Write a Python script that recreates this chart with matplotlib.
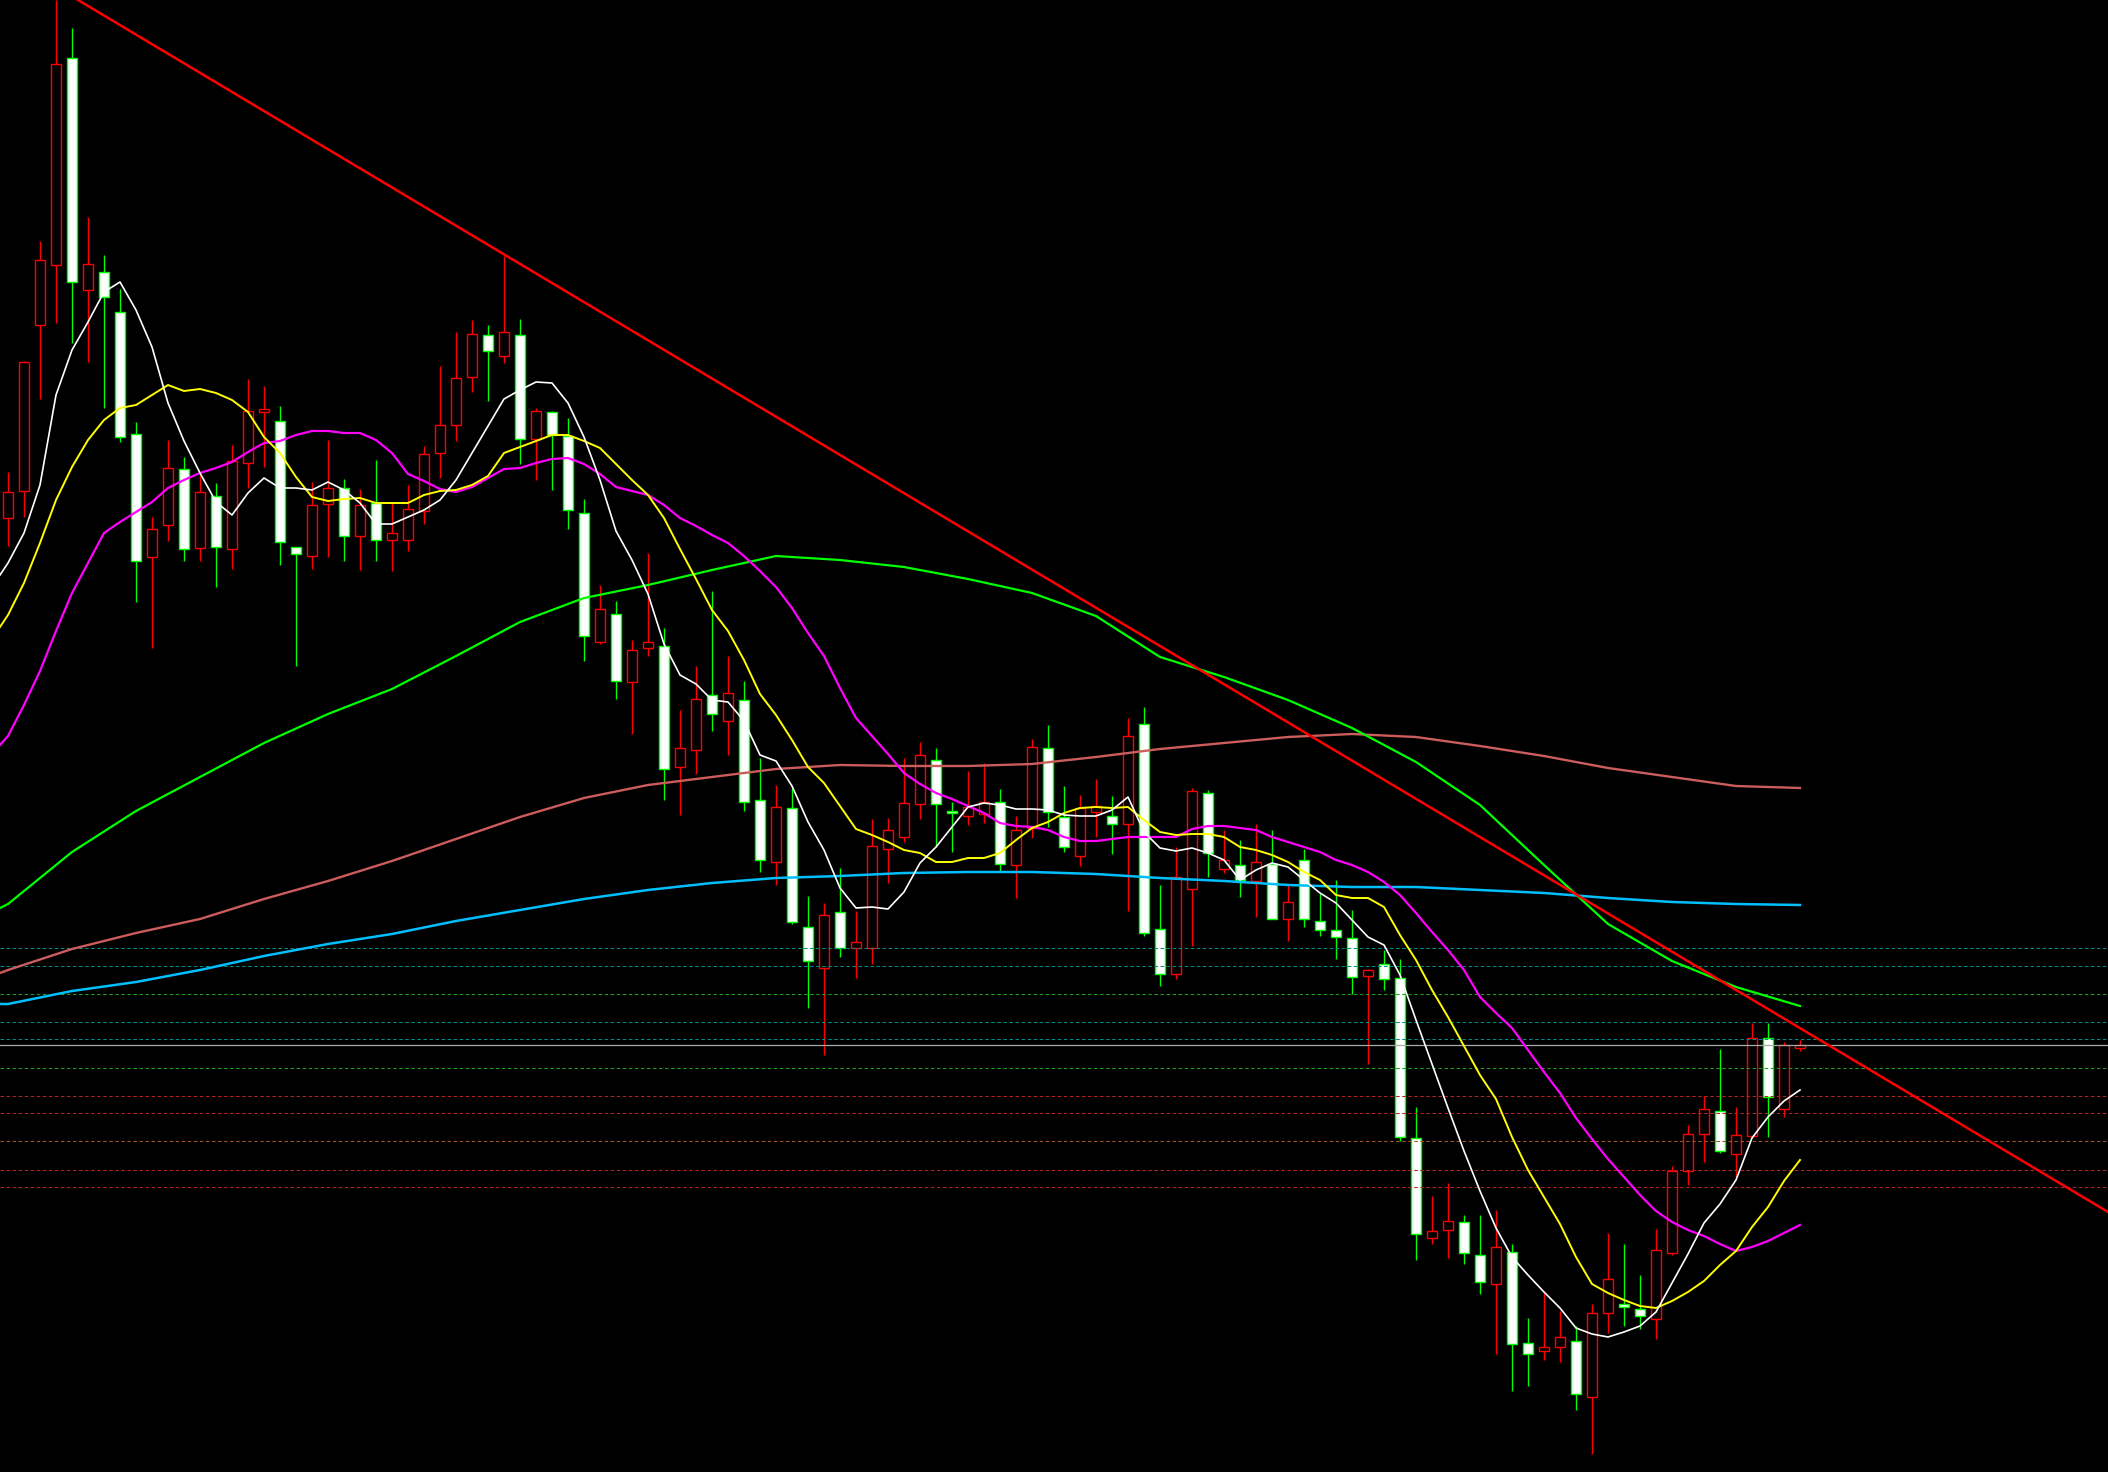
import matplotlib
matplotlib.use("Agg")
import matplotlib.pyplot as plt
from matplotlib.patches import Rectangle
import numpy as np

# ---------------- data (price units) ----------------
opens = [954, 981, 1147, 1207, 1414, 1182, 1200, 1160, 1038, 915,
         947, 1003, 924, 976, 923, 1009, 1060, 1051, 925, 916,
         968, 984, 936, 969, 932, 932, 961, 1019, 1047, 1095,
         1137, 1116, 1137, 1033, 1060, 1036, 959, 830, 858, 790,
         824, 826, 705, 722, 777, 751, 772, 672, 610, 664,
         545, 504, 560, 524, 524, 623, 635, 668, 712, 661,
         656, 658, 670, 607, 644, 724, 655, 616, 660, 656,
         648, 748, 543, 498, 583, 679, 603, 607, 591, 608,
         553, 612, 551, 542, 534, 496, 508, 494, 334, 234,
         242, 250, 217, 188, 220, 129, 121, 125, 131, 75,
         159, 168, 163, 153, 219, 301, 338, 361, 318, 336,
         434, 363, 424]
highs = [1000, 1111, 1231, 1472, 1444, 1255, 1217, 1183, 1050, 955,
         1032, 1015, 999, 989, 1027, 1093, 1086, 1066, 925, 990,
         1032, 993, 983, 1012, 969, 987, 1026, 1106, 1140, 1152,
         1147, 1216, 1153, 1064, 1061, 1054, 973, 887, 871, 832,
         919, 844, 762, 806, 881, 816, 791, 714, 687, 684,
         576, 569, 604, 561, 653, 654, 714, 730, 724, 670,
         701, 709, 683, 656, 733, 747, 686, 677, 693, 676,
         754, 765, 587, 625, 684, 682, 642, 632, 648, 642,
         587, 623, 579, 592, 562, 503, 522, 513, 365, 276,
         289, 257, 257, 262, 228, 154, 180, 161, 146, 168,
         239, 228, 197, 243, 306, 347, 376, 423, 365, 449,
         449, 430, 432]
lows = [926, 955, 1073, 1149, 1129, 1110, 1064, 1030, 870, 824,
        931, 911, 911, 885, 903, 984, 1005, 907, 806, 903,
        915, 911, 902, 911, 901, 921, 948, 994, 1031, 1080,
        1071, 1109, 1008, 992, 982, 943, 811, 828, 773, 738,
        816, 672, 657, 698, 741, 717, 661, 600, 587, 548,
        464, 417, 515, 494, 508, 589, 630, 653, 625, 620,
        647, 649, 601, 574, 634, 645, 620, 606, 635, 618,
        561, 536, 486, 493, 526, 595, 599, 575, 555, 553,
        531, 545, 536, 513, 478, 408, 482, 331, 212, 228,
        214, 208, 178, 118, 81, 86, 112, 110, 62, 18,
        139, 146, 143, 133, 217, 287, 310, 319, 295, 335,
        335, 355, 421]
closes = [980, 1110, 1212, 1408, 1190, 1208, 1175, 1035, 911, 943,
          1004, 923, 980, 925, 1011, 1061, 1063, 930, 918, 967,
          984, 936, 967, 932, 939, 963, 1018, 1047, 1094, 1138,
          1121, 1140, 1033, 1061, 1037, 962, 836, 863, 791, 822,
          830, 703, 724, 773, 758, 779, 670, 612, 665, 550,
          511, 557, 524, 530, 626, 642, 669, 717, 668, 659,
          665, 670, 608, 642, 725, 660, 625, 664, 666, 648,
          736, 539, 498, 595, 681, 619, 612, 592, 610, 553,
          570, 553, 542, 535, 495, 502, 493, 335, 238, 241,
          251, 219, 190, 225, 128, 118, 125, 135, 78, 159,
          193, 165, 156, 222, 301, 338, 363, 321, 337, 434,
          375, 427, 427]

ma_white = [909, 939, 987, 1077, 1122, 1150, 1180, 1190, 1162, 1125,
            1069, 1031, 999, 970, 957, 979, 994, 984, 984, 982,
            990, 982, 969, 948, 948, 955, 962, 972, 992, 1019,
            1046, 1073, 1082, 1090, 1089, 1069, 1035, 992, 941, 912,
            878, 828, 797, 788, 772, 770, 751, 717, 711, 686,
            650, 622, 584, 564, 565, 563, 580, 609, 625, 645,
            665, 669, 667, 663, 663, 662, 657, 656, 656, 662,
            675, 640, 624, 621, 624, 619, 612, 592, 602, 609,
            605, 592, 579, 569, 552, 535, 527, 497, 452, 408,
            364, 321, 281, 244, 215, 197, 180, 164, 144, 138,
            135, 140, 146, 160, 189, 218, 249, 268, 292, 334,
            355, 371, 382]
ma_yellow = [857, 889, 929, 972, 1005, 1032, 1052, 1064, 1067, 1077,
             1087, 1081, 1083, 1079, 1072, 1060, 1035, 1019, 995, 975,
             971, 973, 974, 969, 969, 969, 977, 981, 982, 987,
             996, 1019, 1025, 1031, 1037, 1037, 1031, 1024, 1008, 992,
             977, 954, 923, 893, 862, 841, 812, 778, 757, 732,
             705, 689, 666, 643, 637, 630, 622, 619, 610, 610,
             614, 614, 619, 632, 644, 650, 659, 664, 665, 664,
             665, 652, 640, 637, 638, 638, 635, 625, 622, 617,
             610, 600, 592, 577, 574, 574, 565, 537, 512, 482,
             455, 426, 397, 373, 335, 302, 275, 248, 215, 188,
             179, 172, 166, 164, 171, 180, 191, 207, 221, 245,
             265, 291, 312]
ma_magenta = [736, 767, 801, 841, 879, 909, 939, 950, 960, 970,
              984, 992, 999, 1004, 1010, 1020, 1029, 1031, 1037, 1041,
              1041, 1039, 1039, 1032, 1019, 998, 991, 983, 980, 985,
              994, 1003, 1004, 1009, 1013, 1014, 1008, 998, 985, 981,
              977, 967, 954, 946, 937, 929, 916, 901, 885, 864,
              839, 816, 784, 754, 736, 718, 699, 688, 679, 673,
              666, 659, 649, 646, 645, 642, 635, 631, 631, 633,
              635, 635, 635, 635, 643, 646, 646, 644, 642, 635,
              630, 625, 620, 612, 607, 600, 590, 577, 559, 540,
              522, 502, 475, 459, 444, 422, 400, 379, 354, 333,
              313, 295, 277, 261, 250, 242, 236, 228, 221, 225,
              231, 239, 247]

# long averages, read every 4th bar
long_idx = list(range(0, 113, 4))
ma_green = [568, 620, 661, 695, 729, 758, 783, 816, 850, 874,
            887, 902, 916, 912, 905, 893, 879, 856, 815, 795,
            772, 744, 710, 667, 607, 548, 511, 485, 466]
ma_salmon = [502, 523, 539, 553, 573, 591, 611, 633, 655, 674,
             687, 695, 703, 707, 706, 706, 708, 715, 723, 729,
             735, 738, 735, 726, 716, 704, 695, 686, 684]
ma_blue = [468, 481, 490, 502, 516, 528, 538, 551, 562, 573,
           582, 589, 594, 596, 599, 600, 600, 598, 594, 591,
           587, 585, 585, 582, 579, 574, 570, 568, 567]

# values of each average where it enters at the left edge of the chart
edge_white, edge_yellow, edge_magenta = 897, 845, 727
edge_green, edge_salmon, edge_blue = 564, 499, 468

# horizontal reference levels
levels = [523.7, 506.3, 477.7, 449.7, 432.7, 403.7, 375.7, 358.7, 330.7, 301.7, 284.7]
level_colors = ["#008b8b", "#008b8b", "#1f9a1f", "#008b8b", "#008b8b", "#1f9a1f",
                "#b22222", "#b22222", "#a0522d", "#b22222", "#b22222"]
last_price_level = 426.7

# trendline anchors (bar index, price)
trend_x = [4.375, 131.25]
trend_y = [1472, 260]

# ---------------- drawing ----------------
W, H = 2108, 1472
fig = plt.figure(figsize=(W / 100, H / 100), dpi=100, facecolor="black")
ax = fig.add_axes([0, 0, 1, 1])
ax.set_facecolor("black")
ax.axis("off")
XMIN, XMAX = -0.5, 131.25
ax.set_xlim(XMIN, XMAX)
ax.set_ylim(0, 1472)

RED = "#ff0000"
GREEN = "#00ff00"
bw = 0.6
lw_c = 1.0

for i, (o, h, l, c) in enumerate(zip(opens, highs, lows, closes)):
    if c >= o:
        ax.vlines(i, c, h, color=RED, lw=lw_c, zorder=2)
        ax.vlines(i, l, o, color=RED, lw=lw_c, zorder=2)
        ax.add_patch(Rectangle((i - bw / 2, o), bw, max(c - o, 0.5),
                               facecolor="black", edgecolor=RED, lw=lw_c, zorder=3))
    else:
        ax.vlines(i, l, h, color=GREEN, lw=lw_c, zorder=2)
        ax.add_patch(Rectangle((i - bw / 2, c), bw, o - c,
                               facecolor="white", edgecolor=GREEN, lw=lw_c, zorder=3))

for lev, col in zip(levels, level_colors):
    ax.axhline(lev, color=col, lw=0.75, ls=(0, (3.4, 2.4)), zorder=4)
ax.axhline(last_price_level, color="#a8a8a8", lw=0.9, zorder=4)

bars = [XMIN] + list(range(len(closes)))
lbars = [XMIN] + long_idx
ax.plot(lbars, [edge_blue] + ma_blue, color="#00bfff", lw=1.8, zorder=5)
ax.plot(lbars, [edge_salmon] + ma_salmon, color="#cd5c5c", lw=1.7, zorder=5)
ax.plot(lbars, [edge_green] + ma_green, color="#00ff00", lw=1.6, zorder=5)
ax.plot(bars, [edge_magenta] + ma_magenta, color="#ff00ff", lw=1.6, zorder=6)
ax.plot(bars, [edge_yellow] + ma_yellow, color="#ffff00", lw=1.4, zorder=6)
ax.plot(bars, [edge_white] + ma_white, color="#ffffff", lw=1.2, zorder=6)
ax.plot(trend_x, trend_y, color=RED, lw=1.8, zorder=7)

fig.savefig("out.png", dpi=100, facecolor="black")
